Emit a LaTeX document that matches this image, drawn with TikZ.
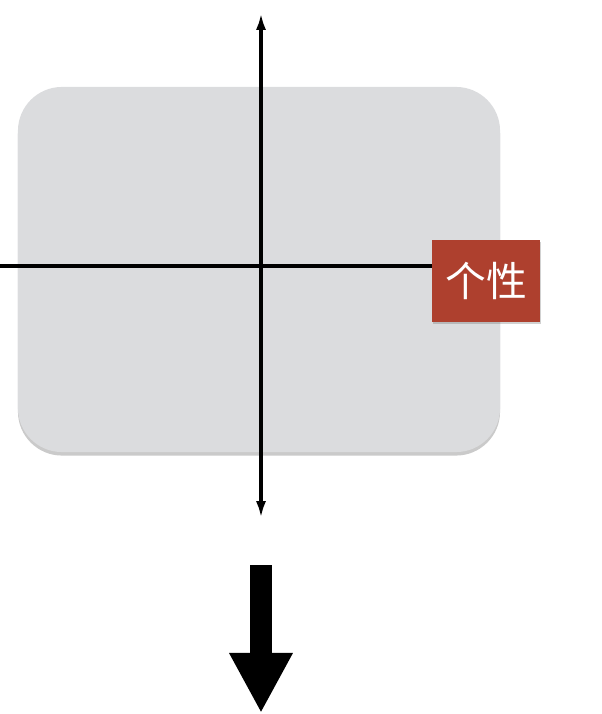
\documentclass[tikz,border=0pt]{standalone}
\usepackage{fontspec}
\newfontfamily\cjk{Noto Sans CJK SC}
\usetikzlibrary{arrows.meta,positioning,shadows}
\definecolor{panelgray}{RGB}{219,220,222}
\definecolor{tagred}{RGB}{174,64,46}

\begin{document}
\begin{tikzpicture}[
  x=0.025cm,y=-0.025cm,
  panel/.style={fill=panelgray,rounded corners=1.1cm,minimum width=12.05cm,minimum height=9.125cm,inner sep=0pt,
    drop shadow={shadow xshift=0pt,shadow yshift=-2.5pt,opacity=.35,fill=black!60}},
  tagbox/.style={fill=tagred,text=white,font=\cjk\fontsize{29}{29}\selectfont,minimum width=2.7cm,minimum height=2.05cm,inner sep=0pt,
    drop shadow={shadow xshift=1pt,shadow yshift=-1.5pt,opacity=.3,fill=black!60}},
  axis/.style={line width=2.4pt,{Latex[length=4.2mm,width=2.5mm]}-{Latex[length=4.2mm,width=2.5mm]}},
  rule/.style={line width=2.4pt},
  bigarrow/.style={line width=0.55cm,-{Triangle[length=1.5cm,width=1.48cm]}}
]
\useasboundingbox (0,0) rectangle (602,714);
\node[panel] (card) at (259,269.5) {};
% axes
\coordinate (vtop) at (261,13);
\coordinate (vbot) at (261,518);
\coordinate (hstart) at (0,266);
\node[tagbox] (trait) at (486,281) {个性};
\draw[axis] (vbot) -- (vtop);
\draw[rule] (hstart) -- (hstart -| trait.west);
% big arrow below
\coordinate (bigtop) at (261,565);
\coordinate (bigtip) at (261,713);
\draw[bigarrow] (bigtop) -- (bigtip);
\end{tikzpicture}
\end{document}
